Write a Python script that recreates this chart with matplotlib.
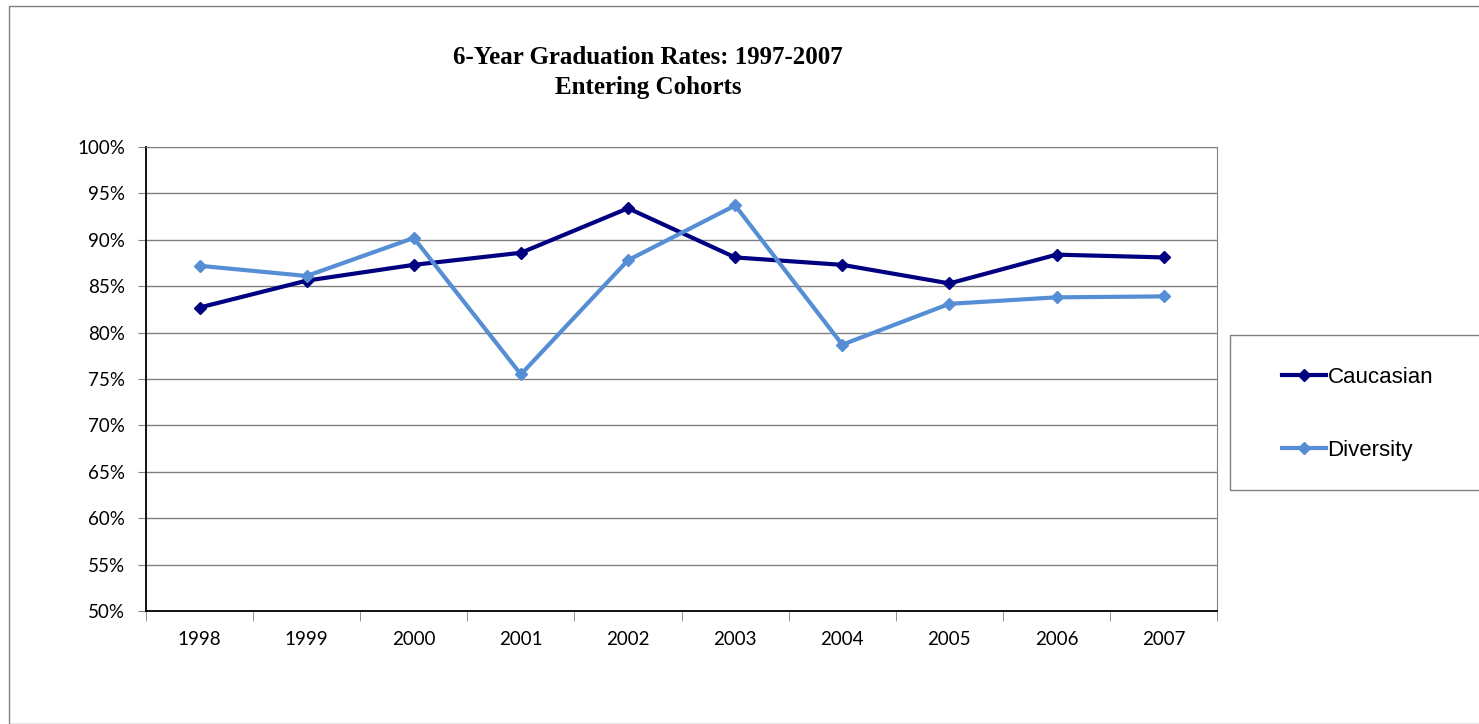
import matplotlib.pyplot as plt
from matplotlib.patches import Rectangle
from matplotlib.ticker import FixedLocator, PercentFormatter

years = ['1998', '1999', '2000', '2001', '2002', '2003', '2004', '2005', '2006', '2007']
caucasian = [82.7, 85.6, 87.3, 88.6, 93.4, 88.1, 87.3, 85.3, 88.4, 88.1]
diversity = [87.2, 86.1, 90.2, 75.5, 87.8, 93.7, 78.7, 83.1, 83.8, 83.9]

fig = plt.figure(figsize=(14.79, 7.24), dpi=100)
ax = fig.add_axes([0.0987, 0.156, 0.7243, 0.641])

x = list(range(len(years)))
ax.plot(x, caucasian, color='#000080', lw=3, marker='D', ms=6.5, label='Caucasian')
ax.plot(x, diversity, color='#558ED5', lw=3, marker='D', ms=6.5, label='Diversity')

ax.set_xlim(-0.5, len(years) - 0.5)
ax.set_ylim(50, 100)
ax.set_yticks(range(50, 101, 5))
ax.yaxis.set_major_formatter(PercentFormatter(decimals=0))
ax.set_xticks(x)
ax.set_xticklabels(years)
ax.xaxis.set_minor_locator(FixedLocator([i - 0.5 for i in range(len(years) + 1)]))
ax.tick_params(axis='x', which='major', length=0, pad=14)
ax.tick_params(axis='x', which='minor', length=7, color='#808080', direction='out')
ax.tick_params(axis='y', length=6, color='#808080', direction='out', pad=9)
for lab in ax.get_xticklabels() + ax.get_yticklabels():
    lab.set_fontfamily('Lato')
    lab.set_fontsize(13.5)

ax.grid(axis='y', color='#808080', lw=1)
ax.set_axisbelow(True)
ax.spines['left'].set_color('black')
ax.spines['bottom'].set_color('black')
ax.spines['left'].set_linewidth(1.3)
ax.spines['bottom'].set_linewidth(1.3)
ax.spines['top'].set_color('#808080')
ax.spines['right'].set_color('#808080')

fig.text(0.438, 0.9, '6-Year Graduation Rates: 1997-2007\nEntering Cohorts',
         ha='center', va='center', fontfamily='Liberation Serif',
         fontweight='bold', fontsize=18, linespacing=1.35)

# outer chart border and legend box
fig.patches.append(Rectangle((9 / 1479, 0), 1.2, 1 - 6 / 724, transform=fig.transFigure,
                             fill=False, ec='#808080', lw=1))
fig.patches.append(Rectangle((1230 / 1479, 1 - 490 / 724), 0.3, 155 / 724, transform=fig.transFigure,
                             fill=False, ec='#808080', lw=1))

fig.legend(loc='center left', bbox_to_anchor=(1273 / 1479, 1 - 414 / 724), frameon=False,
           prop={'family': 'Liberation Sans', 'size': 16}, handlelength=2.0,
           handletextpad=0.05, labelspacing=2.35, borderaxespad=0)

fig.savefig('out.png', dpi=100)
